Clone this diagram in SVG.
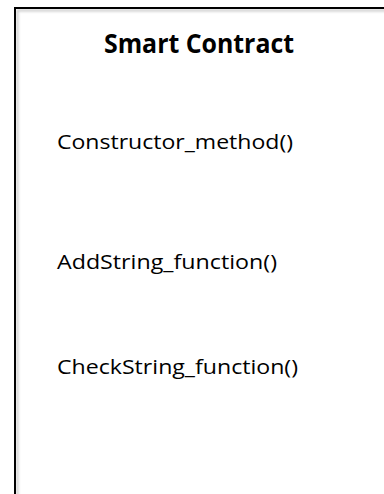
<svg xmlns="http://www.w3.org/2000/svg" width="384" height="494" viewBox="0 0 384 494">
  <defs>
    <filter id="soft" x="-10%" y="-10%" width="120%" height="120%">
      <feGaussianBlur stdDeviation="1.2"/>
    </filter>
    <style>
      .frame { fill: none; stroke: #000; stroke-width: 2; }
      .shade { fill: none; stroke: #9a9a9a; stroke-width: 2; opacity: 0.55; }
      .title { font-family: "Open Sans", "Liberation Sans", sans-serif; font-weight: bold; font-size: 26px; fill: #000; }
      .member { font-family: "Open Sans", "Liberation Sans", sans-serif; font-size: 20px; fill: #000; }
    </style>
  </defs>

  <rect width="384" height="494" fill="#fff"/>

  <!-- class box: only its top and left edges fall inside the view -->
  <g id="smart-contract">
    <path class="shade" d="M17.5 520 V10.5 H400" filter="url(#soft)"/>
    <path class="frame" d="M15 520 V8 H400"/>
    <text class="title" x="104" y="53" textLength="190" lengthAdjust="spacingAndGlyphs">Smart Contract</text>
  </g>

  <g id="constructor-method">
    <text class="member" x="57" y="148.5" textLength="236" lengthAdjust="spacingAndGlyphs">Constructor_method()</text>
  </g>

  <g id="addstring-function">
    <text class="member" x="57" y="268.5" textLength="220" lengthAdjust="spacingAndGlyphs">AddString_function()</text>
  </g>

  <g id="checkstring-function">
    <text class="member" x="57" y="373.5" textLength="241" lengthAdjust="spacingAndGlyphs">CheckString_function()</text>
  </g>

  <g id="connectors"/>
</svg>
